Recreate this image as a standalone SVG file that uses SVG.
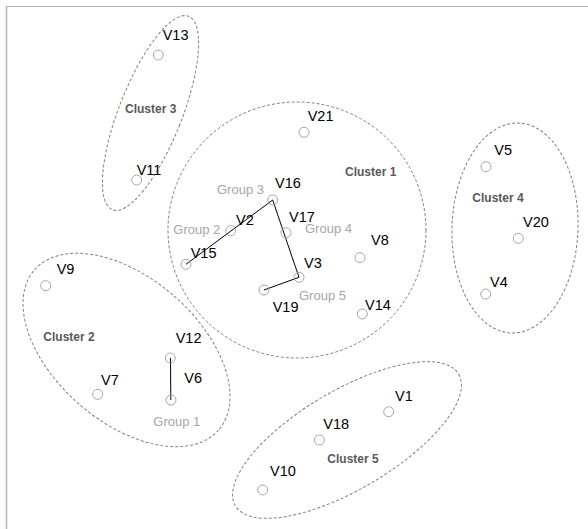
<svg xmlns="http://www.w3.org/2000/svg" width="588" height="529" viewBox="0 0 588 529">
<style>
.frame{stroke:#b4b4b4;fill:none}
.cl{fill:none;stroke:#808080;stroke-width:1;stroke-dasharray:3 2}
.cll{font-family:"Liberation Sans",Arial,sans-serif;font-size:12px;font-weight:bold;fill:#595959}
.n{fill:none;stroke:#a6a6a6;stroke-width:1}
.v{font-family:"Liberation Sans",Arial,sans-serif;font-size:14.5px;fill:#000}
.g{font-family:"Liberation Sans",Arial,sans-serif;font-size:13px;fill:#a6a6a6}
.e{stroke:#000;stroke-width:1;fill:none}
</style>
<rect width="588" height="529" fill="#fff"/>
<line class="frame" x1="6" y1="6.5" x2="588" y2="6.5"/>
<line class="frame" x1="6.5" y1="6" x2="6.5" y2="529" stroke-width="1.5"/>

<g id="cluster1"><ellipse class="cl" cx="297" cy="230" rx="129" ry="128"/><text class="cll" x="345" y="176">Cluster 1</text></g>
<g id="cluster2"><ellipse class="cl" cx="126.5" cy="350" rx="122" ry="72" transform="rotate(41 126.5 350)"/><text class="cll" x="43.3" y="340.5">Cluster 2</text></g>
<g id="cluster3"><ellipse class="cl" cx="150.5" cy="113" rx="31.5" ry="104" transform="rotate(21.5 150.5 113)"/><text class="cll" x="125" y="113">Cluster 3</text></g>
<g id="cluster4"><ellipse class="cl" cx="515" cy="228" rx="63" ry="105" transform="rotate(2 515 228)"/><text class="cll" x="472.3" y="201.7">Cluster 4</text></g>
<g id="cluster5"><ellipse class="cl" cx="347" cy="440" rx="129.6" ry="49.4" transform="rotate(-30.5 347 440)"/><text class="cll" x="327.3" y="463">Cluster 5</text></g>

<g id="connectors">
<line class="e" x1="186" y1="264.3" x2="272.7" y2="200"/>
<line class="e" x1="272.7" y1="200" x2="299" y2="277.3"/>
<line class="e" x1="299" y1="277.3" x2="264" y2="290"/>
<line class="e" x1="170.5" y1="358" x2="170.8" y2="400" stroke="#555" stroke-width="1.3"/>
</g>

<g id="group-labels">
<text class="g" x="153.3" y="426">Group 1</text>
<text class="g" x="173.3" y="234">Group 2</text>
<text class="g" x="217" y="194">Group 3</text>
<text class="g" x="305" y="233">Group 4</text>
<text class="g" x="299" y="299.5">Group 5</text>
</g>

<g id="V1"><circle class="n" cx="388.7" cy="411.7" r="5"/><text class="v" x="395" y="401">V1</text></g>
<g id="V2"><circle class="n" cx="230.7" cy="230.7" r="5"/><text class="v" x="236" y="225">V2</text></g>
<g id="V3"><circle class="n" cx="299" cy="277.3" r="5"/><text class="v" x="304" y="268">V3</text></g>
<g id="V4"><circle class="n" cx="485.7" cy="294" r="5"/><text class="v" x="490" y="286.7">V4</text></g>
<g id="V5"><circle class="n" cx="486" cy="166.7" r="5"/><text class="v" x="494.3" y="155">V5</text></g>
<g id="V6"><circle class="n" cx="171" cy="400" r="5"/><text class="v" x="184.3" y="383.3">V6</text></g>
<g id="V7"><circle class="n" cx="97.7" cy="394.3" r="5"/><text class="v" x="101" y="385">V7</text></g>
<g id="V8"><circle class="n" cx="360" cy="257.7" r="5"/><text class="v" x="371" y="245">V8</text></g>
<g id="V9"><circle class="n" cx="45.7" cy="285.7" r="5"/><text class="v" x="56.7" y="274">V9</text></g>
<g id="V10"><circle class="n" cx="262.7" cy="490" r="5"/><text class="v" x="270" y="475.7">V10</text></g>
<g id="V11"><circle class="n" cx="136.7" cy="180" r="5"/><text class="v" x="136.7" y="175">V11</text></g>
<g id="V12"><circle class="n" cx="170.3" cy="358" r="5"/><text class="v" x="175.7" y="343.3">V12</text></g>
<g id="V13"><circle class="n" cx="158.3" cy="55" r="5"/><text class="v" x="162.7" y="40">V13</text></g>
<g id="V14"><circle class="n" cx="362.3" cy="314" r="5"/><text class="v" x="365" y="310">V14</text></g>
<g id="V15"><circle class="n" cx="186" cy="264.3" r="5"/><text class="v" x="190.7" y="257.7">V15</text></g>
<g id="V16"><circle class="n" cx="272.7" cy="200" r="5"/><text class="v" x="275" y="188.3">V16</text></g>
<g id="V17"><circle class="n" cx="286" cy="232.7" r="5"/><text class="v" x="289" y="221.7">V17</text></g>
<g id="V18"><circle class="n" cx="319.3" cy="440" r="5"/><text class="v" x="323.3" y="429">V18</text></g>
<g id="V19"><circle class="n" cx="264" cy="290" r="5"/><text class="v" x="272.7" y="311.7">V19</text></g>
<g id="V20"><circle class="n" cx="518.3" cy="238.3" r="5"/><text class="v" x="523" y="227">V20</text></g>
<g id="V21"><circle class="n" cx="304" cy="132.3" r="5"/><text class="v" x="307.7" y="121">V21</text></g>
</svg>
